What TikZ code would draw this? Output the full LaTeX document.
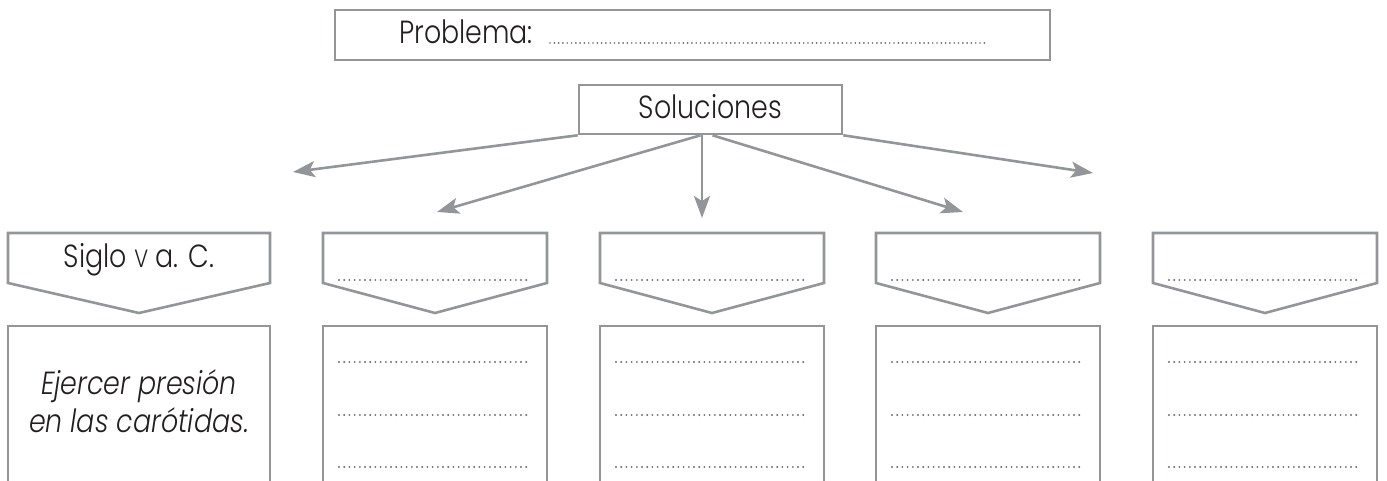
\documentclass[tikz,border=0pt]{standalone}
\usepackage{fontspec}
\setmainfont{Poppins Light}[ItalicFont={Poppins Light Italic},FakeStretch=0.84]
\usetikzlibrary{arrows.meta,calc}
\definecolor{linegray}{HTML}{939598}
\definecolor{dotgray}{HTML}{6D6E71}
\definecolor{txt}{HTML}{231F20}
\begin{document}
\begin{tikzpicture}[x=1pt,y=-1pt,
  frame/.style={draw=linegray,line width=2.6pt},
  conn/.style={draw=linegray,line width=2.6pt,-{Stealth[length=22pt,width=16pt,inset=5pt]}},
  leader/.style={draw=dotgray,line width=2.1pt,line cap=round,dash pattern=on 0pt off 5.2pt},
  pleader/.style={draw=dotgray,line width=1.9pt,line cap=round,dash pattern=on 0pt off 4.3pt},
  lbl/.style={text=txt,font=\fontsize{32}{38}\selectfont,inner sep=0pt},
  ilbl/.style={lbl,font=\fontsize{32}{38}\selectfont\itshape},
]
\useasboundingbox (0,0) rectangle (1387,481);
% top boxes
\node[frame,minimum width=715pt,minimum height=50pt,inner sep=0pt] (prob) at (692.5,35) {};
\node[lbl,anchor=base west] (probt) at (399,44) {Problema:};
\draw[pleader] (550,43) -- (986,43);
\node[frame,minimum width=263pt,minimum height=49pt,inner sep=0pt] (sol) at (710.5,109.5) {};
\node[lbl,anchor=base] (solt) at (710.5,119) {Soluciones};
% arrow tips
\coordinate (t1) at (293,172);
\coordinate (t2) at (437,212);
\coordinate (t3) at (702,218);
\coordinate (t4) at (963,212);
\coordinate (t5) at (1093,173);
\draw[conn] (sol.south west) -- (t1);
\draw[conn] ($(sol.south)+(-10,0)$) -- (t2);
\draw[conn] ($(sol.south)+(-8.5,0)$) -- (t3);
\draw[conn] ($(sol.south)+(2,0)$) -- (t4);
\draw[conn] (sol.south east) -- (t5);
% columns
\foreach \L/\R [count=\i] in {8/270,323/547,600/824,876/1100,1153/1377} {
  \draw[frame,line join=miter] (\L,233) -- (\R,233) -- (\R,283) -- ({(\L+\R)/2},313) -- (\L,283) -- cycle;
  \draw[frame] (\L,484) -- (\L,326) -- (\R,326) -- (\R,484);
}
\foreach \L/\R in {323/547,600/824,876/1100,1153/1377} {
  \draw[leader] (\L+16,280) -- (\R-16,280);
  \draw[leader] (\L+16,362) -- (\R-16,362);
  \draw[leader] (\L+16,415) -- (\R-16,415);
  \draw[leader] (\L+16,467) -- (\R-16,467);
}
\node[lbl,anchor=base] (siglo) at (139,268) {Siglo {\fontsize{25}{30}\selectfont V} a. C.};
\node[ilbl,anchor=base] (ej1) at (139,394) {Ejercer presión};
\node[ilbl,anchor=base] (ej2) at (139,432) {en las carótidas.};
\end{tikzpicture}
\end{document}
